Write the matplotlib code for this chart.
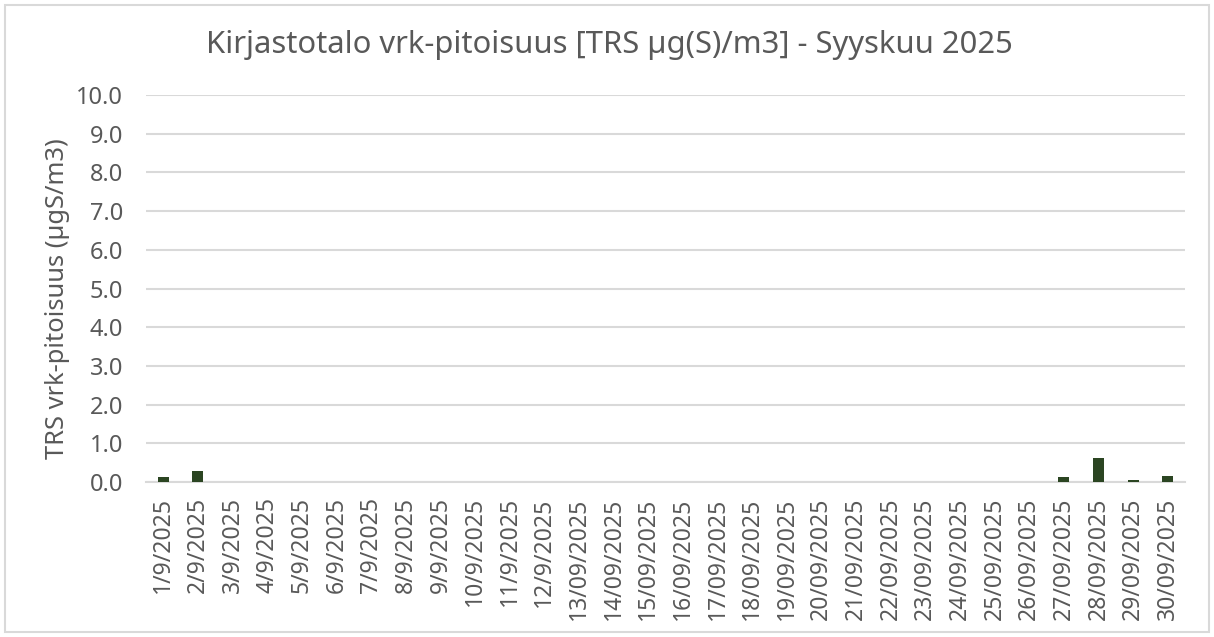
import matplotlib.pyplot as plt
from matplotlib.patches import Rectangle

plt.rcParams['font.family'] = ['Noto Sans', 'DejaVu Sans']

# daily labels as shown in the source chart
days = ['1/9/2025', '2/9/2025', '3/9/2025', '4/9/2025', '5/9/2025', '6/9/2025',
        '7/9/2025', '8/9/2025', '9/9/2025', '10/9/2025', '11/9/2025', '12/9/2025',
        '13/09/2025', '14/09/2025', '15/09/2025', '16/09/2025', '17/09/2025',
        '18/09/2025', '19/09/2025', '20/09/2025', '21/09/2025', '22/09/2025',
        '23/09/2025', '24/09/2025', '25/09/2025', '26/09/2025', '27/09/2025',
        '28/09/2025', '29/09/2025', '30/09/2025']
trs = [0.14, 0.28, 0.0, 0.0, 0.0, 0.0, 0.0, 0.0, 0.0, 0.0, 0.0, 0.0,
       0.0, 0.0, 0.0, 0.0, 0.0, 0.0, 0.0, 0.01, 0.0, 0.0, 0.0, 0.0,
       0.01, 0.01, 0.13, 0.63, 0.05, 0.15]
yticks = [0, 1, 2, 3, 4, 5, 6, 7, 8, 9, 10]

txt = '#595959'
grid = '#D9D9D9'

fig = plt.figure(figsize=(12.14, 6.37), dpi=100)
ax = fig.add_axes([146 / 1214, 1 - 482 / 637, (1185 - 146) / 1214, (482 - 95) / 637])

x = range(len(days))
ax.bar(x, trs, width=0.32, color='#2B4522', zorder=3)

ax.set_ylim(0, 10)
ax.set_xlim(-0.5, len(days) - 0.5)
ax.set_yticks(yticks)
ax.set_yticklabels(['%.1f' % v for v in yticks], fontsize=17, color=txt)
ax.set_xticks(list(x))
ax.set_xticklabels(days, rotation=90, fontsize=16.5, color=txt)
ax.tick_params(axis='both', length=0)
ax.tick_params(axis='y', pad=16.5)
ax.tick_params(axis='x', pad=11)
ax.yaxis.grid(True, color=grid, linewidth=1.5, zorder=0)
for side in ['top', 'right', 'left']:
    ax.spines[side].set_visible(False)
ax.spines['bottom'].set_color(grid)
ax.spines['bottom'].set_linewidth(1.5)

ax.set_ylabel('TRS vrk-pitoisuus (µgS/m3)', fontsize=18.4, color=txt)
ax.yaxis.set_label_coords((70 - 146) / 1039, 0.475)
fig.text(0.502, 1 - 45 / 637, 'Kirjastotalo vrk-pitoisuus [TRS µg(S)/m3] - Syyskuu 2025',
         ha='center', va='center', fontsize=22.3, color=txt)

# chart area border
fig.patches.append(Rectangle((5 / 1214, 5 / 637), 1 - 10 / 1214, 1 - 10 / 637,
                             transform=fig.transFigure, fill=False,
                             edgecolor=grid, linewidth=1.5))

fig.savefig('out.png', dpi=100)
